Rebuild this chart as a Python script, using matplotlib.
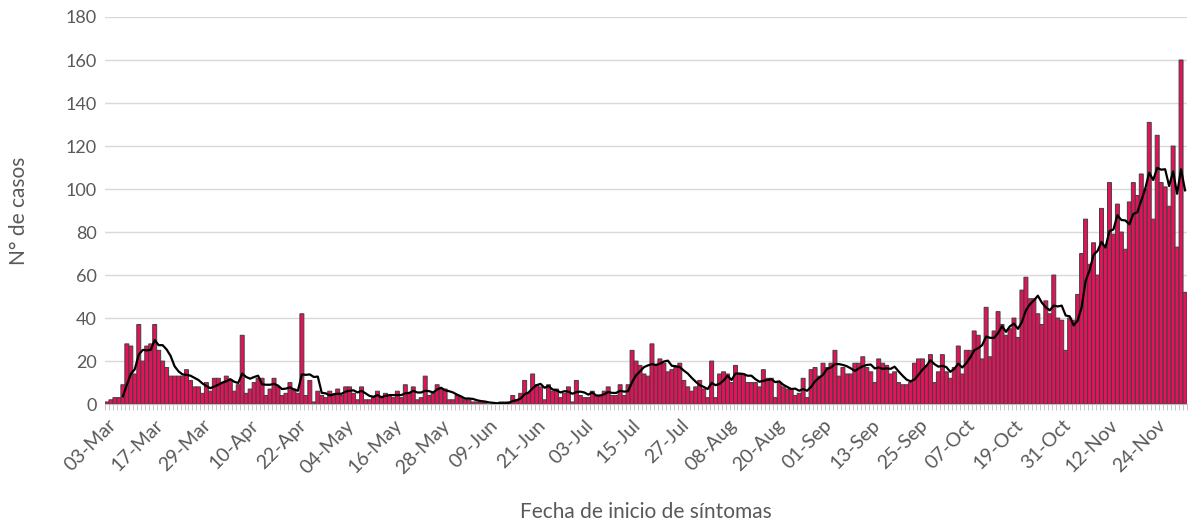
import matplotlib
matplotlib.use('Agg')
import matplotlib.pyplot as plt
import numpy as np
import pandas as pd

plt.rcParams['font.family'] = ['Lato', 'DejaVu Sans']

# daily cases by symptom onset date (first date 03-Mar, then 06-Mar onward)
first_day = '03-Mar'
dates = [first_day] + list(pd.date_range('2020-03-06', periods=271).strftime('%d-%b'))

cases = [
    1, 2, 3, 3, 9, 28, 27, 14, 37, 20, 27, 28, 37, 25, 20, 17, 13, 13, 13, 13,
    16, 11, 8, 8, 5, 10, 6, 12, 12, 10, 13, 11, 6, 9, 32, 5, 7, 10, 12, 12,
    4, 7, 12, 8, 4, 5, 10, 7, 5, 42, 4, 11, 1, 6, 4, 3, 6, 4, 7, 4,
    8, 8, 5, 2, 8, 2, 2, 3, 6, 3, 5, 4, 3, 6, 3, 9, 5, 8, 2, 3,
    13, 4, 5, 9, 7, 7, 2, 2, 4, 3, 2, 2, 1, 1, 1, 1, 0, 0, 0, 1,
    1, 1, 4, 2, 5, 11, 5, 14, 9, 8, 2, 9, 6, 7, 3, 5, 8, 1, 11, 4,
    3, 3, 6, 4, 4, 6, 8, 4, 4, 9, 4, 9, 25, 20, 18, 14, 13, 28, 18, 21,
    19, 15, 16, 17, 19, 11, 8, 6, 8, 11, 7, 3, 20, 3, 14, 15, 14, 10, 18, 14,
    14, 10, 10, 10, 8, 16, 12, 12, 3, 10, 8, 7, 7, 4, 5, 12, 3, 16, 17, 13,
    19, 17, 19, 25, 13, 17, 14, 14, 19, 19, 22, 17, 15, 10, 21, 19, 18, 14, 15, 10,
    9, 9, 10, 19, 21, 21, 18, 23, 10, 15, 23, 15, 12, 17, 27, 14, 25, 25, 34, 32,
    21, 45, 22, 34, 43, 37, 32, 35, 40, 31, 53, 59, 49, 49, 42, 37, 48, 42, 60, 40,
    39, 25, 40, 39, 51, 70, 86, 65, 75, 60, 91, 73, 103, 79, 93, 80, 72, 94, 103, 97,
    107, 100, 131, 86, 125, 103, 101, 92, 120, 73, 160, 52,
]

avg = pd.Series(cases).rolling(5).mean()
x = np.arange(len(cases))

fig = plt.figure(figsize=(11.9, 5.31), dpi=100)
ax = fig.add_axes([0.0882, 0.239, 0.9093, 0.729])

ax.bar(x, cases, width=1.0, color='#E3125A', edgecolor='#404040', linewidth=0.7,
       snap=False, zorder=2)
ax.plot(x, avg, color='black', lw=1.6, zorder=3)

ax.set_xlim(-0.5, len(cases) - 0.5)
ax.set_ylim(0, 180)
ax.set_yticks(range(0, 181, 20))
ax.yaxis.grid(True, color='#d9d9d9', lw=1)
ax.set_axisbelow(True)
for s in ['top', 'right', 'left']:
    ax.spines[s].set_visible(False)
ax.spines['bottom'].set_color('#bfbfbf')

ax.set_xticks(x[::12])
ax.set_xticklabels(dates[::12], rotation=45, ha='right', va='top', rotation_mode='anchor')
ax.set_xticks(np.arange(len(cases) + 1) - 0.5, minor=True)
ax.tick_params(axis='x', which='major', length=0, pad=9, labelsize=14, labelcolor='#595959')
ax.tick_params(axis='x', which='minor', length=4, color='#bfbfbf')
ax.tick_params(axis='y', length=0, labelsize=13, labelcolor='#595959', pad=6)

ax.set_ylabel('N° de casos', fontsize=15, color='#595959', labelpad=26)
ax.set_xlabel('Fecha de inicio de síntomas', fontsize=15, color='#595959', labelpad=18)

fig.savefig('out.png', dpi=100)
